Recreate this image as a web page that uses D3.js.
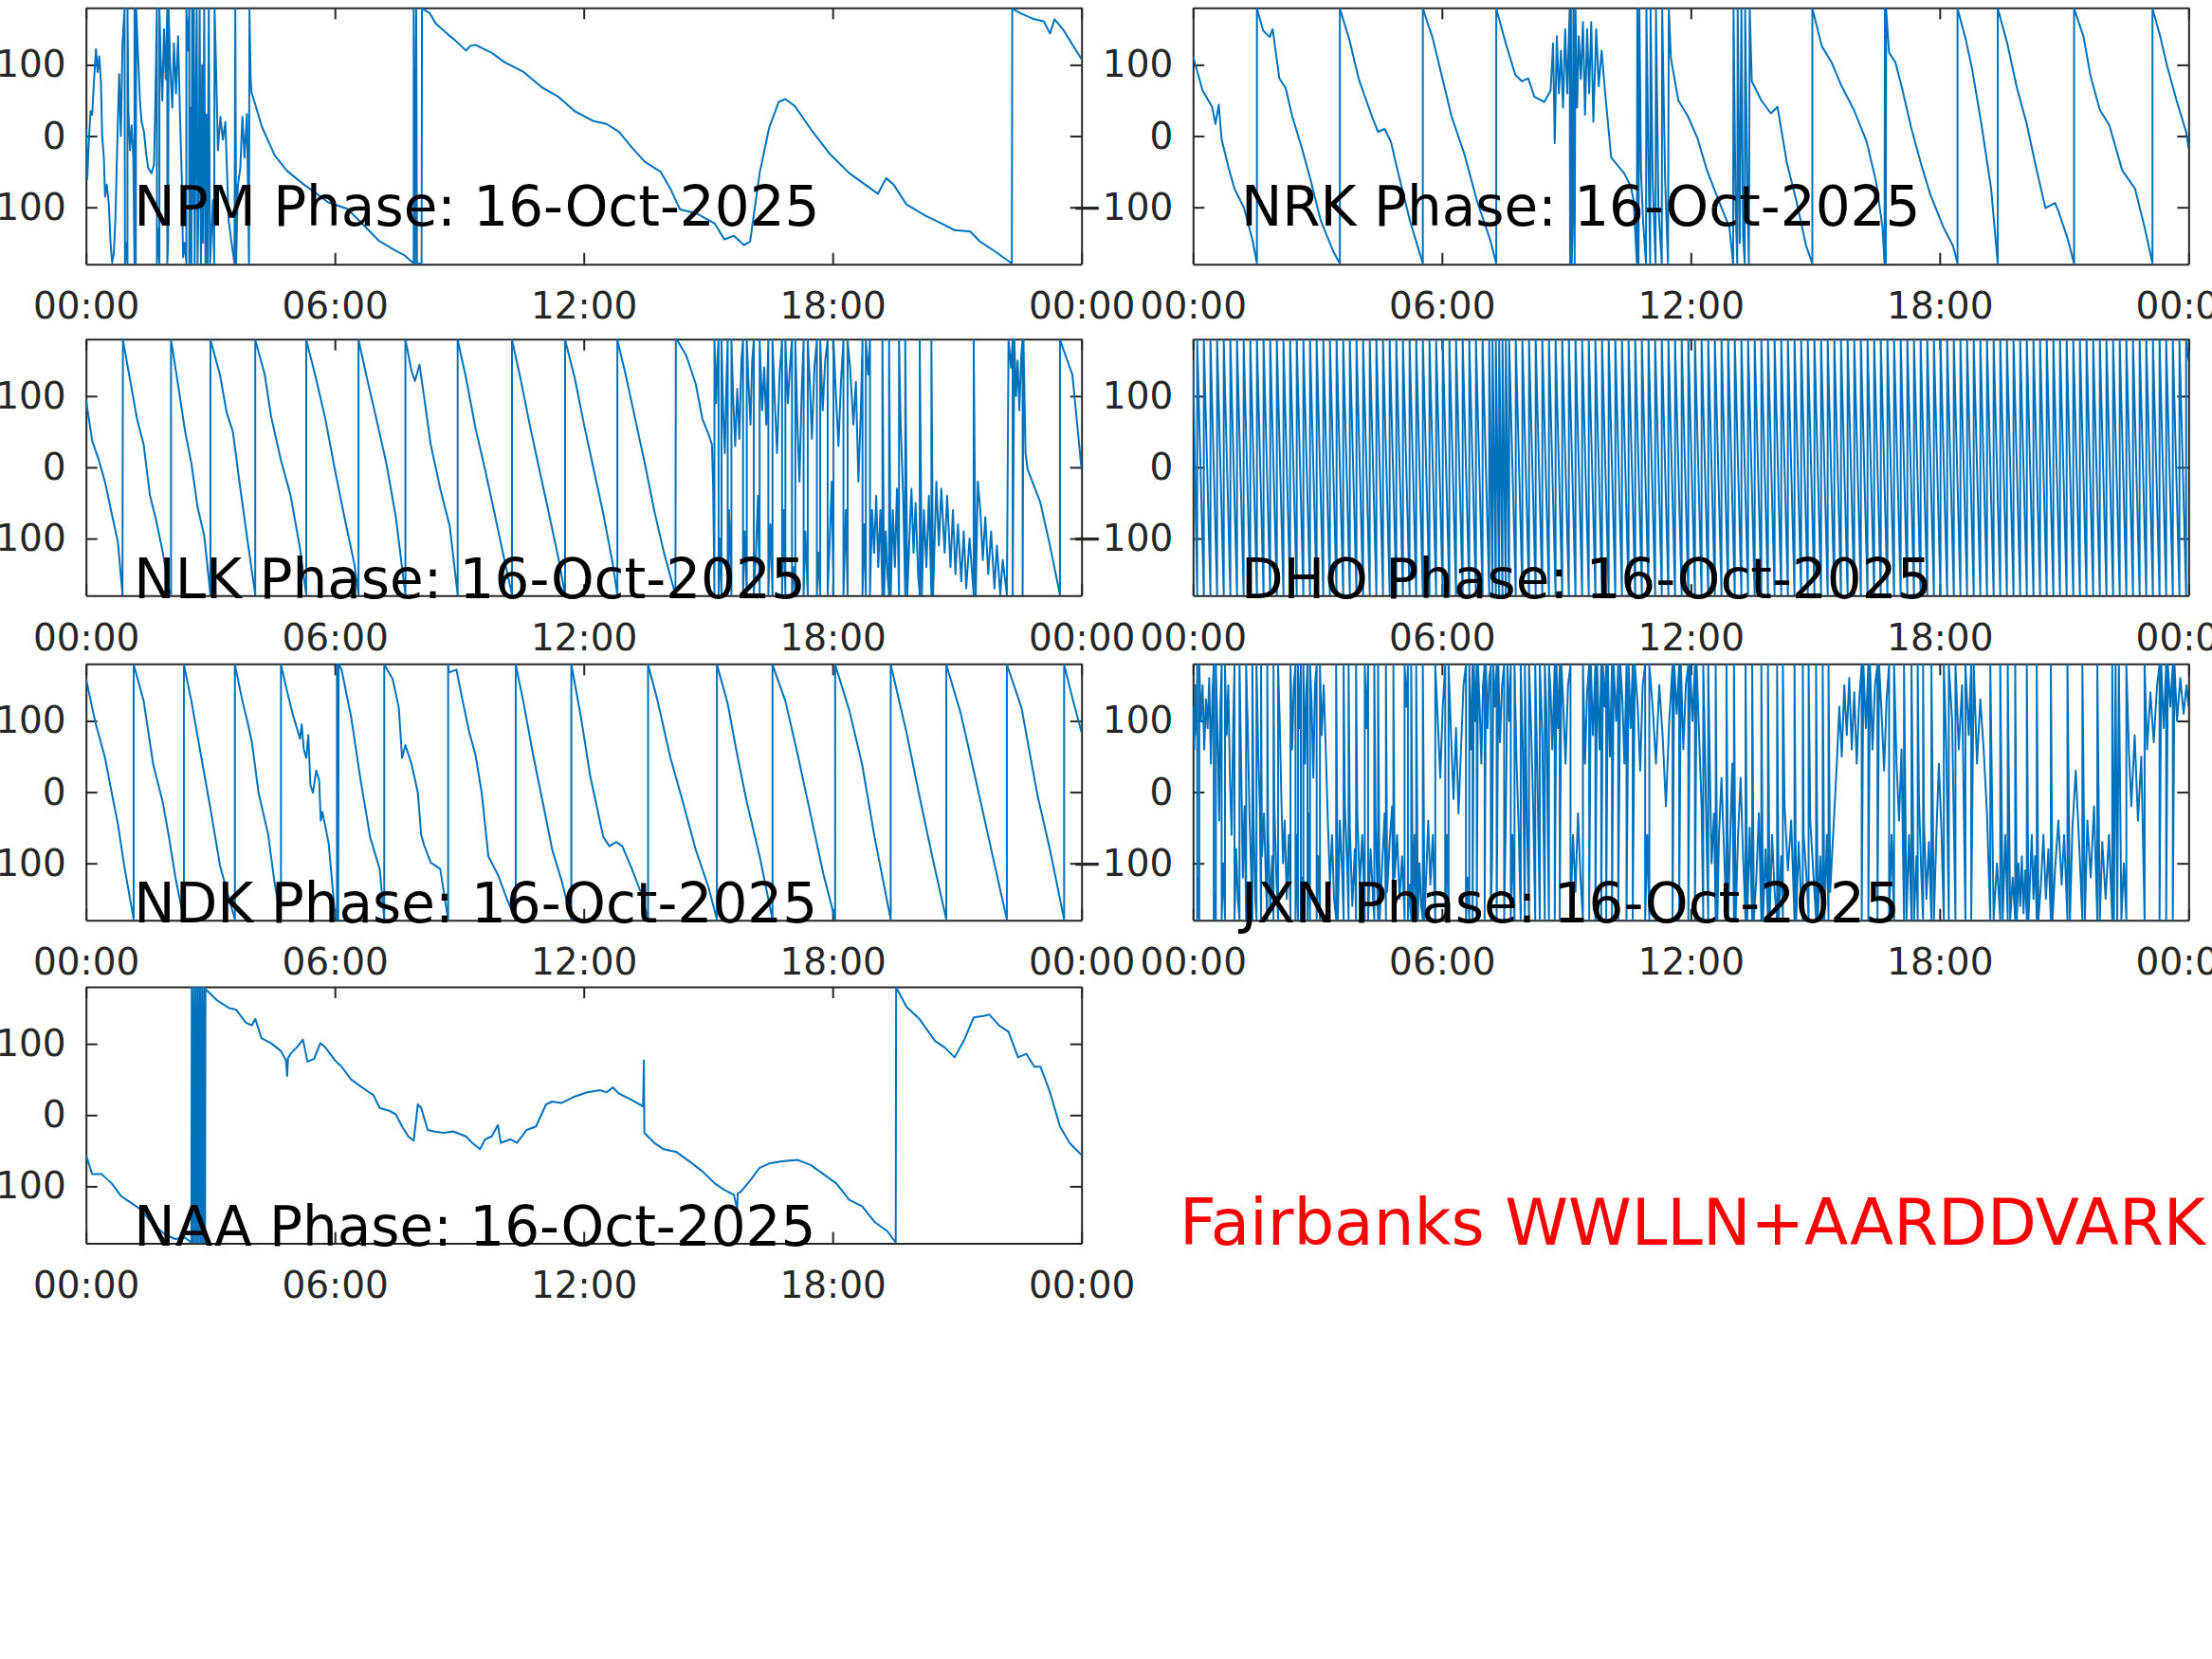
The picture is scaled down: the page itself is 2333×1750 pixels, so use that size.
<!DOCTYPE html>
<html>
<head>
<meta charset="utf-8">
<script src="https://cdn.jsdelivr.net/npm/d3@7"></script>
<style>
  body { margin: 0; background: #fff; }
  svg { display: block; font-family: "DejaVu Sans", sans-serif; }
</style>
</head>
<body>
<div id="chart"></div>
<script>
// Phase data: [hour of day, phase in degrees]
const dateLabel = "16-Oct-2025";
const xTickHours = [0, 6, 12, 18, 24];
const xTickLabels = ["00:00", "06:00", "12:00", "18:00", "00:00"];
const yTickValues = [-100, 0, 100];

const npmPhase = [[0.0,10],[0.03,-60],[0.07,-5],[0.11,35],[0.15,30],[0.19,75],[0.24,122],[0.28,90],[0.32,112],[0.36,75],[0.39,0],[0.43,-30],[0.46,-85],[0.5,-68],[0.55,-95],[0.59,-148],[0.63,-178],[0.67,-165],[0.71,-115],[0.75,-20],[0.8,87],[0.84,0],[0.88,129],[0.93,179],[0.94,-179],[0.98,-150],[1.0,-179],[1.0,179],[1.02,40],[1.06,-20],[1.1,15],[1.14,-30],[1.17,-179],[1.17,179],[1.2,-179],[1.21,179],[1.25,120],[1.3,50],[1.34,20],[1.4,5],[1.45,-25],[1.5,-45],[1.58,-52],[1.64,-40],[1.67,40],[1.7,150],[1.71,179],[1.71,-179],[1.74,-130],[1.77,-179],[1.77,179],[1.8,110],[1.84,50],[1.88,150],[1.92,80],[1.96,179],[1.96,-179],[1.98,-150],[1.99,179],[2.03,100],[2.08,40],[2.12,130],[2.17,60],[2.22,140],[2.27,20],[2.31,-60],[2.34,-170],[2.38,-150],[2.42,-179],[2.42,179],[2.45,120],[2.49,179],[2.49,-179],[2.52,40],[2.54,-179],[2.56,179],[2.58,-100],[2.6,179],[2.62,-179],[2.65,60],[2.67,179],[2.69,-179],[2.72,-60],[2.74,179],[2.77,-179],[2.8,100],[2.82,-150],[2.85,179],[2.88,-179],[2.9,30],[2.93,-179],[2.96,179],[2.99,-179],[3.02,-140],[3.06,-90],[3.09,-179],[3.1,179],[3.13,110],[3.18,-20],[3.24,27],[3.3,-5],[3.36,20],[3.44,-120],[3.58,-179],[3.6,179],[3.62,-179],[3.66,-70],[3.72,-45],[3.77,27],[3.82,-30],[3.88,31],[3.93,-179],[3.94,179],[3.97,80],[3.99,62],[4.24,13],[4.55,-27],[4.85,-49],[5.23,-67],[5.54,-80],[5.84,-93],[6.3,-102],[6.68,-124],[7.06,-147],[7.44,-160],[7.67,-167],[7.9,-179],[7.9,179],[7.93,-179],[7.96,179],[7.98,-179],[8.09,-179],[8.1,179],[8.13,178],[8.28,173],[8.43,158],[8.74,142],[8.89,135],[9.16,120],[9.27,127],[9.39,128],[9.78,117],[10.08,104],[10.55,90],[11.0,68],[11.39,55],[11.78,35],[12.24,21],[12.55,17],[12.85,6],[13.16,-16],[13.47,-36],[13.85,-50],[14.09,-74],[14.32,-103],[14.7,-108],[15.16,-123],[15.39,-145],[15.62,-140],[15.86,-153],[16.01,-148],[16.24,-52],[16.47,12],[16.7,48],[16.86,52],[17.09,42],[17.47,10],[17.93,-25],[18.4,-52],[19.09,-81],[19.29,-59],[19.47,-68],[19.78,-96],[20.24,-112],[20.63,-123],[20.94,-132],[21.32,-134],[21.55,-148],[21.94,-163],[22.32,-179],[22.33,179],[22.55,172],[22.86,164],[23.09,161],[23.24,144],[23.35,164],[23.55,150],[24.0,108]];

const nrkPhase = [[0.0,112],[0.23,64],[0.46,41],[0.54,17],[0.62,44],[0.69,-5],[0.85,-43],[1.0,-74],[1.23,-101],[1.43,-145],[1.54,-179],[1.54,179],[1.69,148],[1.85,139],[1.92,150],[2.08,81],[2.23,68],[2.39,28],[2.62,-16],[2.85,-65],[3.08,-119],[3.39,-163],[3.54,-179],[3.54,179],[3.77,135],[4.0,79],[4.31,28],[4.46,6],[4.62,10],[4.77,-8],[4.93,-48],[5.23,-119],[5.54,-179],[5.54,179],[5.77,139],[6.0,84],[6.23,28],[6.54,-25],[6.85,-92],[7.16,-145],[7.31,-179],[7.31,179],[7.54,130],[7.77,86],[7.93,77],[8.08,81],[8.23,55],[8.47,48],[8.62,64],[8.68,130],[8.72,-10],[8.77,140],[8.82,60],[8.87,120],[8.92,40],[8.97,150],[9.02,60],[9.08,179],[9.09,-179],[9.11,179],[9.13,-179],[9.15,-120],[9.17,179],[9.2,-179],[9.22,179],[9.26,40],[9.3,140],[9.35,80],[9.4,160],[9.45,30],[9.5,150],[9.55,60],[9.6,160],[9.65,20],[9.72,150],[9.78,70],[9.85,120],[9.93,64],[10.08,-30],[10.39,-52],[10.55,-70],[10.62,-90],[10.7,-179],[10.71,179],[10.74,-179],[10.76,179],[10.8,-50],[10.85,-120],[10.92,-179],[10.93,179],[10.97,0],[11.02,-179],[11.03,179],[11.08,-60],[11.15,-179],[11.16,179],[11.22,-100],[11.3,-179],[11.31,179],[11.38,-60],[11.45,-179],[11.47,179],[11.52,110],[11.55,99],[11.7,50],[11.93,28],[12.16,-3],[12.39,-48],[12.62,-83],[12.93,-128],[13.02,-179],[13.03,179],[13.08,-100],[13.12,-179],[13.13,179],[13.18,-150],[13.22,179],[13.26,-140],[13.3,-179],[13.31,179],[13.36,-60],[13.4,-179],[13.42,179],[13.47,77],[13.7,50],[13.93,32],[14.09,41],[14.32,-39],[14.55,-92],[14.78,-154],[14.93,-179],[14.93,179],[15.16,126],[15.39,104],[15.62,72],[15.93,37],[16.24,-8],[16.47,-65],[16.62,-128],[16.67,-179],[16.68,179],[16.7,-179],[16.71,177],[16.78,117],[16.93,104],[17.09,68],[17.32,10],[17.55,-39],[17.78,-83],[18.09,-128],[18.32,-154],[18.43,-179],[18.43,179],[18.63,135],[18.78,95],[19.01,15],[19.24,-74],[19.4,-179],[19.4,179],[19.63,130],[19.86,68],[20.09,19],[20.32,-43],[20.55,-101],[20.78,-94],[20.86,-105],[21.09,-145],[21.24,-179],[21.24,179],[21.47,139],[21.63,86],[21.86,37],[22.09,15],[22.4,-48],[22.71,-74],[22.94,-128],[23.13,-179],[23.13,179],[23.32,139],[23.48,99],[23.71,50],[23.94,6],[24.0,-16]];

const nlkPhase = [[0.0,95],[0.15,37],[0.31,10],[0.46,-21],[0.62,-65],[0.77,-105],[0.88,-179],[0.89,179],[1.08,117],[1.23,68],[1.39,32],[1.54,-39],[1.69,-74],[1.85,-119],[2.0,-172],[2.05,-179],[2.05,179],[2.23,112],[2.39,50],[2.54,6],[2.69,-56],[2.85,-96],[3.0,-179],[3.0,179],[3.23,130],[3.39,77],[3.54,50],[3.7,-21],[3.89,-101],[4.08,-179],[4.08,179],[4.31,130],[4.46,72],[4.7,10],[4.93,-39],[5.16,-114],[5.31,-179],[5.31,179],[5.54,126],[5.77,68],[6.0,-3],[6.23,-70],[6.47,-136],[6.57,-179],[6.57,179],[6.77,126],[7.0,68],[7.24,6],[7.47,-70],[7.7,-179],[7.7,179],[7.85,135],[7.93,121],[8.04,144],[8.16,95],[8.31,32],[8.54,-30],[8.77,-83],[8.96,-179],[8.96,179],[9.16,126],[9.39,55],[9.62,-3],[9.85,-65],[10.08,-128],[10.27,-179],[10.27,179],[10.47,126],[10.7,59],[10.93,-3],[11.16,-65],[11.39,-128],[11.55,-179],[11.55,179],[11.78,126],[12.01,59],[12.24,-3],[12.47,-65],[12.7,-136],[12.81,-179],[12.81,179],[13.01,130],[13.24,68],[13.47,6],[13.7,-61],[13.93,-119],[14.21,-179],[14.22,179],[14.27,177],[14.47,157],[14.7,117],[14.86,68],[15.01,46],[15.09,32],[15.12,-30],[15.15,-179],[15.15,179],[15.19,90],[15.22,150],[15.25,179],[15.25,-179],[15.28,-100],[15.32,-179],[15.32,179],[15.36,80],[15.4,20],[15.44,120],[15.47,179],[15.47,-179],[15.5,-60],[15.54,-140],[15.56,-179],[15.56,179],[15.6,100],[15.65,30],[15.7,110],[15.75,40],[15.8,150],[15.84,179],[15.84,-179],[15.88,-90],[15.93,-179],[15.93,179],[15.97,120],[16.02,60],[16.06,150],[16.1,179],[16.1,-179],[16.15,-120],[16.2,-40],[16.24,-179],[16.24,179],[16.3,80],[16.35,140],[16.4,60],[16.45,179],[16.45,-179],[16.5,-80],[16.55,-179],[16.55,179],[16.6,100],[16.66,20],[16.72,130],[16.78,179],[16.78,-179],[16.82,-60],[16.86,-179],[16.86,179],[16.92,90],[16.98,150],[17.02,179],[17.02,-179],[17.06,-140],[17.1,-179],[17.1,179],[17.15,60],[17.2,-20],[17.25,100],[17.3,179],[17.3,-179],[17.34,-90],[17.4,-179],[17.4,179],[17.45,120],[17.5,40],[17.56,140],[17.62,179],[17.62,-179],[17.66,-120],[17.7,-179],[17.7,179],[17.76,80],[17.82,150],[17.88,179],[17.88,-179],[17.93,-100],[17.98,-20],[18.02,-179],[18.02,179],[18.08,100],[18.14,30],[18.2,120],[18.26,179],[18.26,-179],[18.32,-60],[18.36,-179],[18.36,179],[18.42,140],[18.5,60],[18.56,120],[18.62,-20],[18.68,80],[18.72,179],[18.72,-179],[18.76,-80],[18.8,-179],[18.8,179],[18.86,130],[18.9,179],[18.9,-179],[18.95,-60],[19.0,-120],[19.05,-40],[19.1,-140],[19.15,-60],[19.2,-179],[19.2,179],[19.24,-179],[19.28,-90],[19.32,-150],[19.36,-179],[19.36,179],[19.4,-179],[19.45,-60],[19.5,-140],[19.55,-30],[19.6,-179],[19.6,179],[19.64,60],[19.7,-40],[19.75,-179],[19.75,179],[19.8,-179],[19.85,-100],[19.9,-30],[19.95,-120],[20.0,-50],[20.06,-150],[20.1,-179],[20.1,179],[20.15,-179],[20.2,-60],[20.26,-140],[20.32,-40],[20.38,-179],[20.38,179],[20.42,-179],[20.5,-20],[20.56,-110],[20.62,-30],[20.7,-120],[20.76,-40],[20.84,-140],[20.9,-60],[20.96,-150],[21.02,-80],[21.1,-160],[21.16,-90],[21.22,-170],[21.3,-100],[21.4,-179],[21.4,179],[21.45,-179],[21.5,-20],[21.56,-60],[21.62,-130],[21.68,-70],[21.75,-150],[21.82,-90],[21.9,-170],[21.96,-110],[22.04,-179],[22.1,-130],[22.2,-179],[22.24,179],[22.3,140],[22.34,179],[22.34,-179],[22.38,179],[22.42,100],[22.46,150],[22.5,80],[22.55,160],[22.58,179],[22.58,-179],[22.6,179],[22.65,20],[22.7,-3],[23.0,-48],[23.24,-110],[23.48,-179],[23.48,179],[23.78,130],[24.0,-3]];

// DHO is a steady sawtooth: hours at which the phase wraps from -180 back to +180
const dhoStartPhase = 150;
const dhoWrapHours = [0.10,0.26,0.42,0.58,0.74,0.90,1.06,1.22,1.38,1.54,1.70,1.86,2.02,2.18,2.34,2.50,2.66,2.82,2.98,3.14,3.30,3.46,3.62,3.78,3.94,4.10,4.26,4.42,4.58,4.74,4.90,5.06,5.22,5.38,5.54,5.70,5.86,6.02,6.18,6.34,6.50,6.66,6.82,6.98,7.14,7.22,7.30,7.38,7.46,7.54,7.62,7.78,7.94,8.10,8.26,8.42,8.58,8.74,8.90,9.06,9.22,9.38,9.54,9.70,9.86,10.02,10.18,10.34,10.50,10.66,10.82,10.98,11.14,11.30,11.46,11.62,11.78,11.94,12.10,12.26,12.42,12.58,12.74,12.90,13.06,13.22,13.38,13.54,13.70,13.86,14.02,14.18,14.34,14.50,14.66,14.82,14.98,15.14,15.30,15.46,15.62,15.78,15.94,16.10,16.26,16.42,16.58,16.74,16.90,17.06,17.22,17.38,17.54,17.70,17.86,18.02,18.18,18.34,18.50,18.66,18.82,18.98,19.14,19.30,19.46,19.62,19.78,19.94,20.10,20.26,20.42,20.58,20.74,20.90,21.06,21.22,21.38,21.54,21.70,21.86,22.02,22.18,22.34,22.50,22.66,22.82,22.98,23.14,23.30,23.46,23.62,23.78,23.94];
const dhoEndPhase = 150;

const ndkPhase = [[0.0,159],[0.23,97],[0.46,48],[0.62,-1],[0.77,-45],[0.92,-103],[1.15,-179],[1.15,179],[1.39,128],[1.62,39],[1.85,-14],[2.0,-63],[2.16,-121],[2.36,-179],[2.36,179],[2.54,128],[2.77,52],[3.0,-23],[3.23,-103],[3.46,-152],[3.59,-179],[3.59,179],[3.77,128],[3.9,97],[4.0,70],[4.16,-1],[4.39,-59],[4.54,-125],[4.7,-179],[4.7,179],[4.85,141],[5.0,106],[5.16,75],[5.2,95],[5.25,60],[5.31,48],[5.36,80],[5.41,10],[5.47,-1],[5.55,30],[5.62,17],[5.66,-40],[5.7,-28],[5.85,-72],[6.0,-170],[6.05,-179],[6.05,179],[6.08,-179],[6.09,179],[6.16,172],[6.39,106],[6.62,17],[6.85,-63],[7.08,-108],[7.19,-179],[7.19,179],[7.39,159],[7.54,119],[7.62,48],[7.7,66],[7.85,39],[8.0,-1],[8.08,-60],[8.16,-76],[8.31,-99],[8.54,-108],[8.73,-179],[8.73,179],[8.75,168],[8.93,172],[9.08,128],[9.24,84],[9.39,52],[9.54,-1],[9.7,-90],[9.93,-116],[10.16,-152],[10.36,-179],[10.36,179],[10.54,128],[10.78,52],[11.01,-14],[11.24,-81],[11.47,-125],[11.7,-179],[11.7,179],[11.93,106],[12.16,21],[12.31,-19],[12.47,-63],[12.62,-76],[12.78,-70],[12.93,-76],[13.16,-108],[13.39,-143],[13.55,-179],[13.55,179],[13.78,128],[14.09,48],[14.39,-14],[14.7,-81],[15.01,-134],[15.21,-179],[15.21,179],[15.47,124],[15.7,52],[15.93,-14],[16.24,-90],[16.55,-179],[16.55,179],[16.86,128],[17.16,52],[17.47,-32],[17.78,-116],[18.06,-179],[18.06,179],[18.4,115],[18.71,39],[19.01,-63],[19.4,-179],[19.4,179],[19.78,84],[20.09,-5],[20.4,-90],[20.74,-179],[20.74,179],[21.09,110],[21.47,12],[21.79,-72],[22.2,-179],[22.2,179],[22.55,119],[22.94,-5],[23.24,-81],[23.58,-179],[23.58,179],[23.78,132],[24.0,84]];

const jxnPhase = [[0,120],[0.03,60],[0.06,150],[0.09,80],[0.1,179],[0.1,-179],[0.13,-120],[0.15,-179],[0.15,179],[0.19,100],[0.23,150],[0.27,60],[0.31,130],[0.35,90],[0.39,160],[0.43,40],[0.47,140],[0.5,179],[0.5,-179],[0.53,-140],[0.55,-179],[0.55,179],[0.6,60],[0.63,-40],[0.66,120],[0.69,179],[0.69,-179],[0.73,-100],[0.77,-179],[0.77,179],[0.81,80],[0.85,150],[0.89,20],[0.93,-60],[0.97,100],[1.0,179],[1.0,-179],[1.04,-80],[1.08,-150],[1.12,-179],[1.12,179],[1.16,40],[1.2,-120],[1.24,-20],[1.28,-179],[1.28,179],[1.32,90],[1.36,-30],[1.4,-110],[1.43,-179],[1.43,179],[1.46,-40],[1.5,-150],[1.53,-179],[1.53,179],[1.57,60],[1.61,-20],[1.64,-179],[1.64,179],[1.66,-90],[1.71,-30],[1.76,-130],[1.79,-179],[1.79,179],[1.81,-60],[1.86,-160],[1.91,-90],[1.94,-179],[1.94,179],[1.96,-20],[2.01,-120],[2.05,-179],[2.05,179],[2.09,100],[2.13,-10],[2.17,-100],[2.21,-40],[2.26,-150],[2.31,-60],[2.35,-179],[2.35,179],[2.39,60],[2.43,150],[2.47,179],[2.47,-179],[2.5,-60],[2.53,-179],[2.53,179],[2.57,90],[2.6,179],[2.6,-179],[2.63,-120],[2.66,-179],[2.66,179],[2.7,40],[2.73,140],[2.76,179],[2.76,-179],[2.79,-30],[2.82,-179],[2.82,179],[2.86,120],[2.9,20],[2.94,150],[2.98,179],[2.98,-179],[3.02,-90],[3.06,-179],[3.06,179],[3.1,80],[3.15,150],[3.2,60],[3.25,-40],[3.3,-130],[3.35,-60],[3.4,-150],[3.45,-179],[3.45,179],[3.49,-179],[3.54,-40],[3.6,-120],[3.63,-179],[3.63,179],[3.66,-20],[3.72,-110],[3.75,-179],[3.75,179],[3.78,-50],[3.84,-160],[3.9,-80],[3.93,-179],[3.93,179],[3.96,-30],[4.02,-130],[4.08,-60],[4.14,-179],[4.14,179],[4.18,90],[4.22,179],[4.22,-179],[4.28,-80],[4.34,-150],[4.37,-179],[4.37,179],[4.4,-40],[4.46,-179],[4.46,179],[4.5,-179],[4.56,-100],[4.62,-30],[4.65,-179],[4.65,179],[4.68,-140],[4.74,-70],[4.8,-20],[4.83,-179],[4.83,179],[4.86,-120],[4.92,-60],[4.98,-150],[5.04,-90],[5.1,-179],[5.1,179],[5.14,120],[5.18,179],[5.18,-179],[5.22,-130],[5.26,-179],[5.26,179],[5.3,-179],[5.34,-60],[5.38,-179],[5.38,179],[5.42,-179],[5.46,-100],[5.5,-160],[5.54,-179],[5.54,179],[5.58,-179],[5.62,-120],[5.67,-40],[5.72,-130],[5.78,-60],[5.84,-179],[5.84,179],[5.9,100],[5.96,20],[6.02,120],[6.08,179],[6.08,-179],[6.12,-60],[6.16,-179],[6.16,179],[6.22,80],[6.28,-10],[6.34,90],[6.4,-30],[6.46,60],[6.52,150],[6.58,179],[6.58,-179],[6.62,-120],[6.66,-179],[6.66,179],[6.7,60],[6.74,179],[6.74,-179],[6.77,179],[6.8,100],[6.84,179],[6.84,-179],[6.87,179],[6.91,120],[6.95,40],[6.99,150],[7.03,179],[7.03,-179],[7.06,179],[7.1,90],[7.14,160],[7.18,179],[7.18,-179],[7.21,-90],[7.24,179],[7.28,120],[7.32,179],[7.32,-179],[7.36,179],[7.4,70],[7.45,150],[7.5,179],[7.5,-179],[7.54,-40],[7.58,179],[7.62,100],[7.66,179],[7.66,-179],[7.7,-60],[7.75,-179],[7.75,179],[7.8,40],[7.85,-50],[7.9,-179],[7.9,179],[7.95,60],[8.0,-179],[8.0,179],[8.05,-40],[8.1,-179],[8.1,179],[8.15,90],[8.2,-20],[8.25,-179],[8.25,179],[8.3,30],[8.36,-179],[8.36,179],[8.42,80],[8.48,-179],[8.48,179],[8.52,110],[8.58,-179],[8.58,179],[8.62,140],[8.66,60],[8.72,179],[8.72,-179],[8.76,179],[8.8,90],[8.84,179],[8.84,-179],[8.88,179],[8.92,130],[8.98,40],[9.04,150],[9.1,179],[9.1,-179],[9.16,-60],[9.22,-140],[9.28,-30],[9.34,-120],[9.4,-179],[9.4,179],[9.45,40],[9.5,140],[9.55,179],[9.55,-179],[9.59,179],[9.64,80],[9.7,179],[9.7,-179],[9.74,179],[9.8,60],[9.84,179],[9.84,-179],[9.88,179],[9.92,120],[9.96,179],[9.96,-179],[10.0,179],[10.05,50],[10.1,179],[10.1,-179],[10.14,179],[10.2,100],[10.25,179],[10.25,-179],[10.3,179],[10.35,130],[10.4,40],[10.45,179],[10.45,-179],[10.5,179],[10.55,90],[10.6,179],[10.6,-179],[10.65,179],[10.72,120],[10.78,30],[10.84,150],[10.9,179],[10.9,-179],[10.95,-60],[11.0,-179],[11.0,179],[11.08,120],[11.16,40],[11.24,150],[11.32,80],[11.4,-20],[11.48,100],[11.56,179],[11.56,-179],[11.6,179],[11.66,110],[11.72,179],[11.72,-179],[11.76,179],[11.82,60],[11.88,150],[11.94,179],[11.94,-179],[11.98,179],[12.04,100],[12.1,179],[12.1,-179],[12.14,179],[12.2,80],[12.26,-20],[12.3,-179],[12.3,179],[12.34,60],[12.38,-60],[12.42,-179],[12.42,179],[12.46,30],[12.5,-100],[12.56,-30],[12.6,-179],[12.6,179],[12.64,-179],[12.68,-60],[12.74,20],[12.8,-80],[12.86,-179],[12.86,179],[12.9,-179],[12.96,-40],[13.0,40],[13.04,-179],[13.04,179],[13.08,-179],[13.14,-60],[13.2,20],[13.26,-90],[13.32,-179],[13.32,179],[13.36,-179],[13.42,-50],[13.48,-179],[13.48,179],[13.52,-179],[13.58,-120],[13.64,-30],[13.7,-179],[13.7,179],[13.74,-179],[13.8,-80],[13.86,-179],[13.86,179],[13.9,-179],[13.96,-60],[14.02,-140],[14.08,-179],[14.08,179],[14.12,-179],[14.18,-90],[14.22,-179],[14.22,179],[14.26,-20],[14.34,-110],[14.42,-40],[14.5,-179],[14.5,179],[14.54,-179],[14.6,-70],[14.66,-150],[14.7,-179],[14.7,179],[14.72,-60],[14.8,-130],[14.84,-179],[14.84,179],[14.88,-40],[14.96,-120],[15.02,-179],[15.02,179],[15.06,-179],[15.12,-90],[15.18,-179],[15.18,179],[15.22,-179],[15.28,-60],[15.32,-179],[15.32,179],[15.36,-140],[15.44,-50],[15.52,40],[15.58,120],[15.64,50],[15.7,150],[15.76,80],[15.82,160],[15.88,60],[15.94,140],[16.0,40],[16.06,130],[16.12,179],[16.12,-179],[16.16,179],[16.22,90],[16.28,179],[16.28,-179],[16.32,179],[16.38,60],[16.44,150],[16.5,179],[16.5,-179],[16.54,179],[16.6,110],[16.66,30],[16.72,130],[16.78,179],[16.78,-179],[16.84,-60],[16.9,-179],[16.9,179],[16.96,40],[17.02,-40],[17.08,60],[17.14,-179],[17.14,179],[17.2,-179],[17.26,-60],[17.32,-179],[17.32,179],[17.38,-179],[17.44,-90],[17.47,-179],[17.47,179],[17.5,-10],[17.56,-120],[17.6,-179],[17.6,179],[17.62,-40],[17.68,-150],[17.74,-70],[17.8,-179],[17.8,179],[17.86,-179],[17.92,-60],[17.98,40],[18.04,-50],[18.1,-179],[18.1,179],[18.16,60],[18.22,-179],[18.22,179],[18.3,100],[18.38,-179],[18.38,179],[18.46,60],[18.54,150],[18.62,-179],[18.62,179],[18.7,80],[18.76,179],[18.76,-179],[18.82,179],[18.9,40],[18.98,130],[19.06,60],[19.14,-30],[19.22,-179],[19.22,179],[19.3,-179],[19.38,-100],[19.46,-179],[19.46,179],[19.52,-179],[19.58,-60],[19.64,-179],[19.64,179],[19.7,-179],[19.76,-120],[19.82,-179],[19.82,179],[19.86,-179],[19.9,-100],[19.94,-160],[19.98,-90],[20.02,-170],[20.06,-110],[20.1,-179],[20.1,179],[20.14,-179],[20.18,-120],[20.22,-60],[20.26,-150],[20.3,-90],[20.34,-179],[20.34,179],[20.38,-179],[20.44,-130],[20.5,-60],[20.56,-150],[20.62,-80],[20.68,-179],[20.68,179],[20.72,-179],[20.78,-110],[20.86,-40],[20.94,-130],[21.0,-60],[21.08,-179],[21.08,179],[21.14,-179],[21.2,-50],[21.28,30],[21.36,-70],[21.44,-179],[21.44,179],[21.5,-179],[21.56,-40],[21.64,-120],[21.72,-20],[21.8,-179],[21.8,179],[21.86,-179],[21.92,-70],[22.0,-150],[22.08,-60],[22.16,-179],[22.16,179],[22.2,-179],[22.24,179],[22.28,-179],[22.32,179],[22.38,-179],[22.44,-100],[22.5,-179],[22.5,179],[22.56,60],[22.62,-20],[22.7,80],[22.78,-40],[22.86,50],[22.94,-179],[22.94,179],[23.0,60],[23.08,140],[23.16,70],[23.24,150],[23.3,179],[23.3,-179],[23.34,179],[23.4,90],[23.46,179],[23.46,-179],[23.5,179],[23.56,120],[23.62,179],[23.62,-179],[23.66,179],[23.72,100],[23.8,160],[23.88,110],[23.95,150],[24.0,120]];

const naaPhase = [[0.0,-56],[0.15,-83],[0.38,-83],[0.62,-96],[0.85,-114],[1.08,-123],[1.31,-132],[1.62,-154],[1.92,-168],[2.15,-174],[2.39,-172],[2.54,-179],[2.55,179],[2.57,-179],[2.6,179],[2.62,-179],[2.65,179],[2.67,-179],[2.7,179],[2.72,-179],[2.75,179],[2.77,-179],[2.8,179],[2.82,-179],[2.85,179],[2.87,-179],[2.88,177],[3.16,161],[3.46,150],[3.62,148],[3.85,130],[4.0,126],[4.08,135],[4.23,108],[4.46,101],[4.7,90],[4.82,77],[4.85,55],[4.87,80],[4.93,86],[5.08,95],[5.23,106],[5.34,75],[5.5,79],[5.65,101],[5.77,95],[6.0,77],[6.16,68],[6.39,50],[6.7,37],[6.93,28],[7.08,10],[7.31,6],[7.47,1],[7.62,-16],[7.77,-30],[7.9,-36],[8.0,15],[8.08,10],[8.24,-21],[8.39,-23],[8.62,-25],[8.85,-23],[9.16,-30],[9.31,-39],[9.5,-48],[9.62,-34],[9.78,-30],[9.93,-14],[10.0,-39],[10.24,-34],[10.39,-39],[10.62,-21],[10.85,-16],[11.09,15],[11.24,19],[11.47,17],[11.78,26],[12.08,32],[12.39,35],[12.55,32],[12.7,39],[12.85,30],[13.16,21],[13.43,12],[13.45,77],[13.46,-25],[13.7,-39],[13.93,-48],[14.24,-52],[14.55,-65],[14.86,-79],[15.16,-96],[15.39,-105],[15.62,-112],[15.7,-132],[15.71,-110],[15.78,-108],[16.01,-92],[16.24,-74],[16.47,-68],[16.78,-65],[17.16,-63],[17.47,-70],[17.78,-83],[18.09,-96],[18.4,-119],[18.71,-128],[19.01,-150],[19.32,-163],[19.52,-179],[19.53,179],[19.55,177],[19.78,152],[20.09,135],[20.47,104],[20.7,95],[20.94,81],[21.16,104],[21.4,137],[21.63,139],[21.78,141],[22.01,126],[22.24,117],[22.47,81],[22.67,86],[22.86,68],[23.01,68],[23.24,32],[23.48,-16],[23.71,-39],[23.86,-48],[24.0,-56]];

// layout (pixels)
const PW = 1050, PH = 270.5;
const colLeft = [90.7, 1258.3];
const rowTop = [8.3, 357.7, 700.3, 1041];

// DHO sawtooth: down-ramp between wraps
function dhoSeries() {
  const pts = [[0, dhoStartPhase]];
  dhoWrapHours.forEach(t => { pts.push([t, -179]); pts.push([t, 179]); });
  pts.push([24, dhoEndPhase]);
  return pts;
}

const panels = [
  { name: "NPM", data: npmPhase, col: 0, row: 0 },
  { name: "NRK", data: nrkPhase, col: 1, row: 0 },
  { name: "NLK", data: nlkPhase, col: 0, row: 1 },
  { name: "DHO", data: dhoSeries(), col: 1, row: 1 },
  { name: "NDK", data: ndkPhase, col: 0, row: 2 },
  { name: "JXN", data: jxnPhase, col: 1, row: 2 },
  { name: "NAA", data: naaPhase, col: 0, row: 3 }
];

const svg = d3.select("#chart").append("svg")
  .attr("width", 2333)
  .attr("height", 1750);

svg.append("rect").attr("width", 2333).attr("height", 1750).attr("fill", "#fff");

const x = d3.scaleLinear().domain([0, 24]).range([0, PW]);
const y = d3.scaleLinear().domain([-180, 180]).range([PH, 0]);

const line = d3.line()
  .x(d => x(d[0]))
  .y(d => y(d[1]));

function styleAxis(g) {
  g.selectAll("path.domain").attr("stroke", "#262626").attr("stroke-width", 2);
  g.selectAll(".tick line").attr("stroke", "#262626").attr("stroke-width", 2);
  g.selectAll(".tick text").attr("fill", "#262626").style("font-size", "39px")
    .style("font-family", "'DejaVu Sans', sans-serif");
}

panels.forEach((p, i) => {
  const g = svg.append("g")
    .attr("transform", `translate(${colLeft[p.col]},${rowTop[p.row]})`);

  g.append("clipPath").attr("id", "clip" + i)
    .append("rect").attr("width", PW).attr("height", PH);

  // bottom axis with labels, other sides are mirrored ticks only (MATLAB box)
  g.append("g")
    .attr("transform", `translate(0,${PH})`)
    .call(d3.axisBottom(x).tickValues(xTickHours).tickSize(-12).tickSizeOuter(0)
      .tickPadding(30).tickFormat((d, k) => xTickLabels[k]))
    .call(styleAxis);
  g.append("g")
    .call(d3.axisTop(x).tickValues(xTickHours).tickSize(-12).tickSizeOuter(0).tickFormat(""))
    .call(styleAxis);
  g.append("g")
    .call(d3.axisLeft(y).tickValues(yTickValues).tickSize(-12).tickSizeOuter(0)
      .tickPadding(21).tickFormat(d3.format("d")))
    .call(styleAxis);
  g.append("g")
    .attr("transform", `translate(${PW},0)`)
    .call(d3.axisRight(y).tickValues(yTickValues).tickSize(-12).tickSizeOuter(0).tickFormat(""))
    .call(styleAxis);

  g.append("path")
    .datum(p.data)
    .attr("clip-path", `url(#clip${i})`)
    .attr("fill", "none")
    .attr("stroke", "#0072BD")
    .attr("stroke-width", 2)
    .attr("stroke-linejoin", "round")
    .attr("d", line);

  // station title sits inside the axes near the bottom
  const baseY = p.row === 0 ? PH - 41 : PH + 2.5;
  g.append("text")
    .attr("x", 50.6)
    .attr("y", baseY)
    .attr("fill", "#000")
    .style("font-size", "58px")
    .text(`${p.name} Phase: ${dateLabel}`);
});

svg.append("text")
  .attr("x", 1244)
  .attr("y", 1313)
  .attr("fill", "#ff0000")
  .style("font-size", "67.5px")
  .text("Fairbanks WWLLN+AARDDVARK");
</script>
</body>
</html>
